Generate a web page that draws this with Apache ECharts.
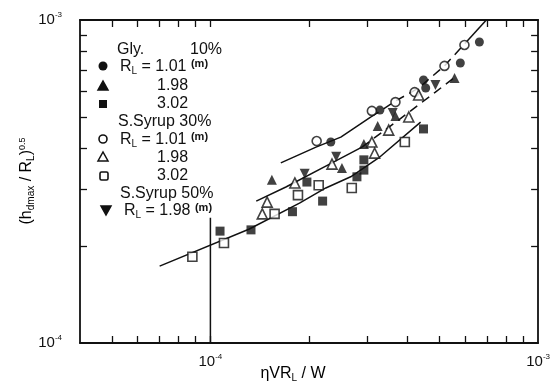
<!DOCTYPE html>
<html>
<head>
<meta charset="utf-8">
<script src="https://cdn.jsdelivr.net/npm/echarts@6/dist/echarts.min.js"></script>
<style>
  html, body { margin: 0; padding: 0; background: #fff; }
  #chart { width: 553px; height: 383px; }
</style>
</head>
<body>
<div id="chart"></div>
<script>
// --- data (x = eta*V*RL/W, y = (hdmax/RL)^0.5) ---
// Gly. 10%
const gly101 = [[2.33e-4, 4.19e-4], [3.29e-4, 5.26e-4], [4.47e-4, 6.52e-4], [4.54e-4, 6.16e-4], [5.79e-4, 7.36e-4], [6.62e-4, 8.55e-4]];
const gly198 = [[1.54e-4, 3.20e-4], [2.52e-4, 3.48e-4], [2.94e-4, 4.13e-4], [3.24e-4, 4.70e-4], [3.67e-4, 5.04e-4], [5.56e-4, 6.61e-4]];
const gly302 = [[1.07e-4, 2.22e-4], [1.33e-4, 2.24e-4], [1.78e-4, 2.55e-4], [1.97e-4, 3.15e-4], [2.20e-4, 2.75e-4], [2.80e-4, 3.27e-4], [2.94e-4, 3.43e-4], [2.94e-4, 3.69e-4], [4.47e-4, 4.60e-4]];
// S.Syrup 30%
const syr30_101 = [[2.11e-4, 4.22e-4], [3.11e-4, 5.23e-4], [3.67e-4, 5.57e-4], [4.20e-4, 5.98e-4], [5.18e-4, 7.21e-4], [5.96e-4, 8.37e-4]];
const syr30_198 = [[1.44e-4, 2.51e-4], [1.49e-4, 2.73e-4], [1.81e-4, 3.13e-4], [2.35e-4, 3.58e-4], [3.11e-4, 4.19e-4], [3.17e-4, 3.87e-4], [3.50e-4, 4.56e-4], [4.03e-4, 5.01e-4], [4.32e-4, 5.86e-4]];
const syr30_302 = [[8.81e-5, 1.85e-4], [1.10e-4, 2.04e-4], [1.57e-4, 2.51e-4], [1.85e-4, 2.87e-4], [2.14e-4, 3.08e-4], [2.70e-4, 3.02e-4], [3.92e-4, 4.19e-4]];
// S.Syrup 50%
const syr50_198 = [[1.94e-4, 3.34e-4], [2.42e-4, 3.77e-4], [3.60e-4, 5.15e-4], [4.86e-4, 6.29e-4]];

// hand drawn trend lines
const fitUpperSolid = [[1.64e-4, 3.61e-4], [2.10e-4, 4.04e-4], [2.50e-4, 4.34e-4], [3.09e-4, 5.01e-4]];
const fitUpperDash = [[3.09e-4, 5.01e-4], [3.67e-4, 5.61e-4], [4.32e-4, 6.16e-4], [5.18e-4, 7.21e-4], [6.00e-4, 8.49e-4]];
const fitUpperEnd = [[6.00e-4, 8.49e-4], [6.95e-4, 1.0e-3]];
const fitMidSolid = [[1.38e-4, 2.75e-4], [1.70e-4, 3.04e-4], [2.35e-4, 3.61e-4], [2.90e-4, 4.04e-4]];
const fitMidDash = [[2.90e-4, 4.04e-4], [3.75e-4, 4.90e-4], [4.86e-4, 5.98e-4], [5.63e-4, 6.71e-4]];
const fitLow = [[7.00e-5, 1.73e-4], [1.31e-4, 2.25e-4], [1.87e-4, 2.71e-4], [2.25e-4, 3.02e-4], [2.68e-4, 3.27e-4], [3.26e-4, 3.74e-4], [4.38e-4, 4.83e-4]];
const refLine = [[1e-4, 1e-4], [1e-4, 2.44e-4]];

// axis ticks / labels
const xTicks = [5e-5, 6e-5, 7e-5, 8e-5, 9e-5, 1e-4, 2e-4, 3e-4, 4e-4, 5e-4, 6e-4, 7e-4, 8e-4, 9e-4];
const yTicks = [2e-4, 3e-4, 4e-4, 5e-4, 6e-4, 7e-4, 8e-4, 9e-4];
const xLabels = [1e-4, 1e-3];
const yLabels = [1e-4, 1e-3];

const FONT = '"Liberation Sans", Arial, sans-serif';
const INK = '#111';

const powRich = {
  a: { fontSize: 15, lineHeight: 18, color: INK, fontFamily: FONT },
  e: { fontSize: 8, lineHeight: 9, verticalAlign: 'top', color: INK, fontFamily: FONT }
};
const powFmt = v => '{a|10}{e|' + Math.round(Math.log10(v)) + '}';

function logAxis(extra, min, max, ticks, labels) {
  return Object.assign({
    type: 'log',
    logBase: 10,
    min: min,
    max: max,
    splitLine: { show: false },
    axisLine: { onZero: false, lineStyle: { color: INK, width: 1.8 } },
    axisTick: { inside: true, length: 7, customValues: ticks, lineStyle: { color: INK, width: 1.3 } },
    minorTick: { show: false },
    axisLabel: labels
      ? { customValues: labels, formatter: powFmt, rich: powRich, margin: 10 }
      : { show: false }
  }, extra);
}

function scatter(data, symbol, filled, rotate) {
  return {
    type: 'scatter',
    data: data,
    symbol: symbol,
    symbolSize: symbol === 'triangle' ? 10 : 9,
    symbolRotate: rotate || 0,
    z: 5,
    itemStyle: filled
      ? { color: INK }
      : { color: '#fff', borderColor: INK, borderWidth: 1.6 }
  };
}

function line(data, dashed) {
  return {
    type: 'line',
    data: data,
    symbol: 'none',
    z: 3,
    lineStyle: { color: INK, width: 1.5, type: dashed ? [9, 6] : 'solid' }
  };
}

// legend block (text + small glyphs), laid out inside the frame
const legTxt = { fontSize: 16, fontFamily: FONT, fill: INK };
const rlRich = {
  n: { fontSize: 16, lineHeight: 18, fontFamily: FONT, color: INK },
  l: { fontSize: 10, lineHeight: 12, verticalAlign: 'bottom', fontFamily: FONT, color: INK },
  m: { fontSize: 11, lineHeight: 16, verticalAlign: 'top', fontFamily: FONT, color: INK, fontWeight: 'bold' }
};
function txt(x, y, text, rich) {
  return { type: 'text', x: x, y: y, style: Object.assign({ text: text, verticalAlign: 'middle', rich: rich }, legTxt) };
}
const rl = v => '{n|R}{l|L}{n| = ' + v + ' }{m|(m)}';
function tri(cx, cy, up, filled) {
  const s = up ? 1 : -1;
  return {
    type: 'polygon',
    shape: { points: [[cx - 5, cy + 4 * s], [cx + 5, cy + 4 * s], [cx, cy - 5 * s]] },
    style: { fill: filled ? INK : '#fff', stroke: INK, lineWidth: 1.5 }
  };
}
const legend = [
  txt(117, 50, 'Gly.'), txt(190, 50, '10%'),
  { type: 'circle', shape: { cx: 103, cy: 66, r: 4.5 }, style: { fill: INK } },
  txt(120, 67, rl('1.01'), rlRich),
  tri(103, 86, true, true), txt(157, 86, '1.98'),
  { type: 'rect', shape: { x: 99, y: 100, width: 8, height: 8 }, style: { fill: INK } },
  txt(157, 104, '3.02'),
  txt(118, 122, 'S.Syrup 30%'),
  { type: 'circle', shape: { cx: 103, cy: 139, r: 4 }, style: { fill: '#fff', stroke: INK, lineWidth: 1.6 } },
  txt(120, 140, rl('1.01'), rlRich),
  tri(103, 157, true, false), txt(157, 158, '1.98'),
  { type: 'rect', shape: { x: 100, y: 172, width: 8, height: 8, r: 1.5 }, style: { fill: '#fff', stroke: INK, lineWidth: 1.6 } },
  txt(157, 176, '3.02'),
  txt(120, 194, 'S.Syrup 50%'),
  tri(106, 210, false, true),
  txt(124, 211, rl('1.98'), rlRich)
];

const chart = echarts.init(document.getElementById('chart'));
chart.setOption({
  backgroundColor: '#fff',
  animation: false,
  grid: { left: 80, right: 13, top: 20, bottom: 40, containLabel: false },
  xAxis: [
    logAxis({ position: 'bottom' }, 4e-5, 1e-3, xTicks, xLabels),
    logAxis({ position: 'top' }, 4e-5, 1e-3, xTicks, null)
  ],
  yAxis: [
    logAxis({ position: 'left', axisLabel: { customValues: yLabels, formatter: powFmt, rich: powRich, margin: 18 } }, 1e-4, 1e-3, yTicks, yLabels),
    logAxis({ position: 'right' }, 1e-4, 1e-3, yTicks, null)
  ],
  graphic: legend.concat([
    {
      type: 'text', x: 293, y: 374,
      style: {
        text: '{n|\u03b7VR}{l|L}{n| / W}', align: 'center', verticalAlign: 'middle',
        rich: rlRich
      }
    },
    {
      type: 'text', x: 27, y: 181, rotation: Math.PI / 2,
      style: {
        text: '{n|(h}{l|dmax}{n| / R}{l|L}{n|)}{s|0.5}', align: 'center', verticalAlign: 'middle',
        rich: Object.assign({ s: { fontSize: 9, lineHeight: 10, verticalAlign: 'top', fontFamily: FONT, color: INK } }, rlRich)
      }
    }
  ]),
  series: [
    line(fitUpperSolid, false), line(fitUpperDash, true), line(fitUpperEnd, false),
    line(fitMidSolid, false), line(fitMidDash, true),
    line(fitLow, false),
    line(refLine, false),
    scatter(gly101, 'circle', true),
    scatter(gly198, 'triangle', true),
    scatter(gly302, 'rect', true),
    scatter(syr30_101, 'circle', false),
    scatter(syr30_198, 'triangle', false),
    scatter(syr30_302, 'rect', false),
    scatter(syr50_198, 'triangle', true, 180)
  ]
});
</script>
</body>
</html>
